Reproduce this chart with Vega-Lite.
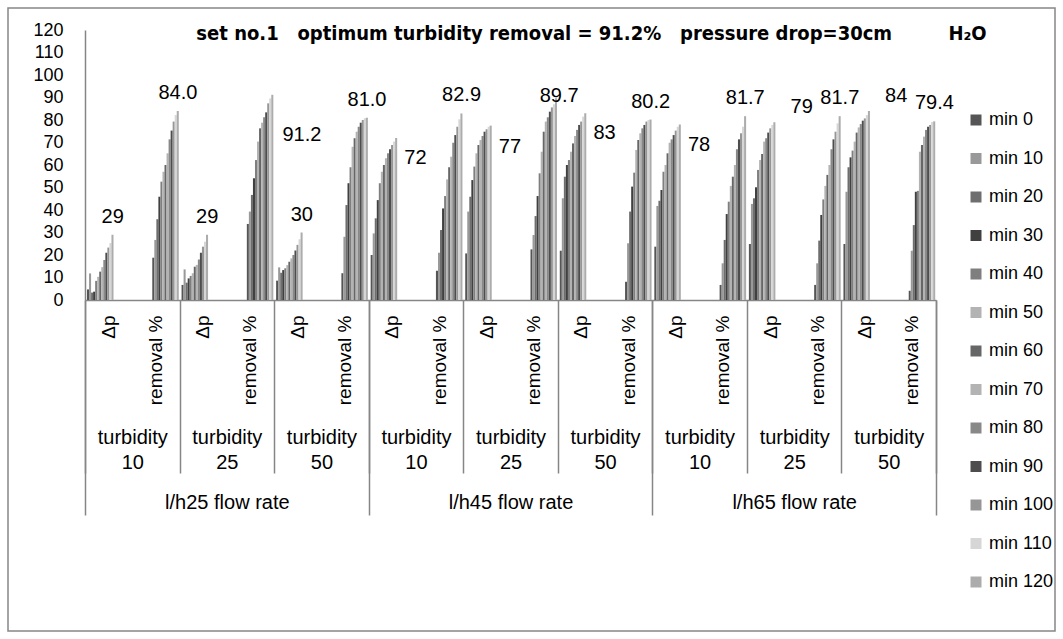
{
  "$schema": "https://vega.github.io/schema/vega-lite/v6.json",
  "width": 1047,
  "height": 623,
  "autosize": {"type": "none"},
  "padding": 8,
  "background": "white",
  "config": {
    "view": {"stroke": "#868686", "strokeWidth": 1.5},
    "font": "Liberation Sans",
    "axis": {"labelFont": "Liberation Sans", "labelColor": "#000000", "grid": false, "domainColor": "#868686", "tickColor": "#868686"},
    "legend": {"labelFont": "Liberation Sans", "labelColor": "#000000"}
  },
  "title": {
    "text": "set no.1\u00a0\u00a0\u00a0optimum turbidity removal = 91.2%\u00a0\u00a0\u00a0pressure drop=30cm\u00a0\u00a0\u00a0\u00a0\u00a0\u00a0\u00a0\u00a0\u00a0H₂O",
    "anchor": "middle",
    "frame": "group",
    "font": "Liberation Sans Narrow, DejaVu Sans Condensed, sans-serif",
    "fontWeight": "bold",
    "fontSize": 20,
    "color": "#000000",
    "offset": 0,
    "dx": 60,
    "dy": 36
  },
  "datasets": {
    "bars": [
      {"c": "25|10|Δp", "min 0": 4.7, "min 10": 11.8, "min 20": 3.3, "min 30": 3.7, "min 40": 8.5, "min 50": 10.3, "min 60": 12.6, "min 70": 14.6, "min 80": 17.8, "min 90": 21, "min 100": 23.3, "min 110": 25.3, "min 120": 29},
      {"c": "25|10|removal %", "min 0": 18.8, "min 10": 26.7, "min 20": 35.9, "min 30": 45.9, "min 40": 52.6, "min 50": 57, "min 60": 60, "min 70": 65.2, "min 80": 71.4, "min 90": 75.3, "min 100": 79.3, "min 110": 82.2, "min 120": 84},
      {"c": "25|25|Δp", "min 0": 6.7, "min 10": 13.6, "min 20": 7.7, "min 30": 9.6, "min 40": 10.7, "min 50": 11.9, "min 60": 14.8, "min 70": 15.6, "min 80": 18, "min 90": 21, "min 100": 23.7, "min 110": 25.9, "min 120": 29},
      {"c": "25|25|removal %", "min 0": 33.8, "min 10": 39.3, "min 20": 46.7, "min 30": 54.1, "min 40": 62.2, "min 50": 70.4, "min 60": 76.3, "min 70": 78.8, "min 80": 81.2, "min 90": 83.4, "min 100": 87.4, "min 110": 89.6, "min 120": 91.2},
      {"c": "25|50|Δp", "min 0": 8.6, "min 10": 14.5, "min 20": 12.1, "min 30": 13.3, "min 40": 14.1, "min 50": 15.5, "min 60": 17, "min 70": 18.5, "min 80": 20, "min 90": 22, "min 100": 24.5, "min 110": 27, "min 120": 30},
      {"c": "25|50|removal %", "min 0": 11.9, "min 10": 28.1, "min 20": 42.2, "min 30": 51.9, "min 40": 59, "min 50": 68.1, "min 60": 71.9, "min 70": 74.8, "min 80": 77, "min 90": 78.8, "min 100": 80, "min 110": 80.8, "min 120": 81},
      {"c": "45|10|Δp", "min 0": 20, "min 10": 29.6, "min 20": 36.3, "min 30": 44.4, "min 40": 51.9, "min 50": 57, "min 60": 60, "min 70": 63, "min 80": 65.2, "min 90": 67, "min 100": 68.9, "min 110": 70.4, "min 120": 72},
      {"c": "45|10|removal %", "min 0": 13, "min 10": 21, "min 20": 31.1, "min 30": 40.7, "min 40": 46.2, "min 50": 53.6, "min 60": 59, "min 70": 63.7, "min 80": 69.9, "min 90": 73.3, "min 100": 77, "min 110": 80.3, "min 120": 82.9},
      {"c": "45|25|Δp", "min 0": 20.7, "min 10": 39.3, "min 20": 45.9, "min 30": 53.3, "min 40": 59.3, "min 50": 65.2, "min 60": 68.9, "min 70": 71.1, "min 80": 72.9, "min 90": 74.8, "min 100": 75.9, "min 110": 77, "min 120": 77.5},
      {"c": "45|25|removal %", "min 0": 22.5, "min 10": 28.9, "min 20": 37.3, "min 30": 46.2, "min 40": 56.3, "min 50": 65.9, "min 60": 74.8, "min 70": 79.3, "min 80": 81.2, "min 90": 83.7, "min 100": 85.6, "min 110": 87, "min 120": 89.7},
      {"c": "45|50|Δp", "min 0": 21.9, "min 10": 45.2, "min 20": 54.8, "min 30": 60, "min 40": 62.2, "min 50": 65.9, "min 60": 69.6, "min 70": 72.9, "min 80": 75.6, "min 90": 77.8, "min 100": 79.3, "min 110": 81.5, "min 120": 83},
      {"c": "45|50|removal %", "min 0": 8.1, "min 10": 25.2, "min 20": 39.3, "min 30": 50.4, "min 40": 56.6, "min 50": 66.7, "min 60": 71.1, "min 70": 74.1, "min 80": 76.3, "min 90": 77.8, "min 100": 79.3, "min 110": 80, "min 120": 80.2},
      {"c": "65|10|Δp", "min 0": 23.7, "min 10": 41.8, "min 20": 44.1, "min 30": 48.9, "min 40": 57, "min 50": 60, "min 60": 65.2, "min 70": 69.9, "min 80": 71.4, "min 90": 73.3, "min 100": 75.3, "min 110": 77, "min 120": 78},
      {"c": "65|10|removal %", "min 0": 6.7, "min 10": 16.3, "min 20": 26.7, "min 30": 38.2, "min 40": 43.7, "min 50": 50.7, "min 60": 54.8, "min 70": 60, "min 80": 67, "min 90": 71.4, "min 100": 74.1, "min 110": 77, "min 120": 81.7},
      {"c": "65|25|Δp", "min 0": 24.9, "min 10": 42.7, "min 20": 45.2, "min 30": 50.1, "min 40": 57.8, "min 50": 62.2, "min 60": 64.9, "min 70": 70.4, "min 80": 71.9, "min 90": 74.4, "min 100": 76.3, "min 110": 77.8, "min 120": 79},
      {"c": "65|25|removal %", "min 0": 6.7, "min 10": 16.3, "min 20": 26.4, "min 30": 37.8, "min 40": 44.7, "min 50": 50.7, "min 60": 55.6, "min 70": 60, "min 80": 67, "min 90": 71.4, "min 100": 74.8, "min 110": 78.5, "min 120": 81.7},
      {"c": "65|50|Δp", "min 0": 24.9, "min 10": 48.1, "min 20": 59, "min 30": 63.4, "min 40": 66.4, "min 50": 70.4, "min 60": 74.4, "min 70": 76.7, "min 80": 78.2, "min 90": 79.7, "min 100": 80.7, "min 110": 82.2, "min 120": 84},
      {"c": "65|50|removal %", "min 0": 4.1, "min 10": 21.9, "min 20": 33.3, "min 30": 48.1, "min 40": 48.5, "min 50": 65.9, "min 60": 68.9, "min 70": 72.6, "min 80": 75.6, "min 90": 77, "min 100": 77.8, "min 110": 79.1, "min 120": 79.4}
    ],
    "labDpTop": [
      {"c": "25|10|Δp", "v": 29, "t": "29"},
      {"c": "25|25|Δp", "v": 29, "t": "29"},
      {"c": "25|50|Δp", "v": 30, "t": "30"}
    ],
    "labRemTop": [
      {"c": "25|10|removal %", "v": 84.0, "t": "84.0"},
      {"c": "25|50|removal %", "v": 81.0, "t": "81.0"},
      {"c": "45|10|removal %", "v": 82.9, "t": "82.9"},
      {"c": "45|50|removal %", "v": 80.2, "t": "80.2"},
      {"c": "65|10|removal %", "v": 81.7, "t": "81.7"},
      {"c": "65|25|removal %", "v": 81.7, "t": "81.7"},
      {"c": "65|50|removal %", "v": 79.4, "t": "79.4"}
    ],
    "labRemTip": [
      {"c": "45|25|removal %", "v": 89.7, "t": "89.7"}
    ],
    "labDpSide": [
      {"c": "45|10|Δp", "v": 72, "t": "72"},
      {"c": "45|25|Δp", "v": 77, "t": "77"},
      {"c": "45|50|Δp", "v": 83, "t": "83"},
      {"c": "65|10|Δp", "v": 78, "t": "78"}
    ],
    "labDpUp": [
      {"c": "65|25|Δp", "v": 79, "t": "79"},
      {"c": "65|50|Δp", "v": 84, "t": "84"}
    ],
    "labRemSide": [
      {"c": "25|25|removal %", "v": 91.2, "t": "91.2"}
    ],
    "turb": [
      {"g": "25|10"}, {"g": "25|25"}, {"g": "25|50"},
      {"g": "45|10"}, {"g": "45|25"}, {"g": "45|50"},
      {"g": "65|10"}, {"g": "65|25"}, {"g": "65|50"}
    ],
    "flow": [{"f": "25"}, {"f": "45"}, {"f": "65"}]
  },
  "layer": [
    {
      "data": {"name": "bars"},
      "transform": [
        {"filter": "indexof(datum.c, 'Δp') >= 0"},
        {"fold": ["min 0", "min 10", "min 20", "min 30", "min 40", "min 50", "min 60", "min 70", "min 80", "min 90", "min 100", "min 110", "min 120"], "as": ["s", "v"]}
      ],
      "mark": {"type": "bar"},
      "encoding": {
        "x": {
          "field": "c", "type": "nominal", "title": null, "sort": null,
          "scale": {"domain": ["25|10|Δp", "25|10|removal %", "25|25|Δp", "25|25|removal %", "25|50|Δp", "25|50|removal %", "45|10|Δp", "45|10|removal %", "45|25|Δp", "45|25|removal %", "45|50|Δp", "45|50|removal %", "65|10|Δp", "65|10|removal %", "65|25|Δp", "65|25|removal %", "65|50|Δp", "65|50|removal %"], "range": [77, 928], "paddingInner": 0, "paddingOuter": 0},
          "axis": {"orient": "bottom", "offset": -331, "labelExpr": "isValid(datum.value) ? split(datum.value, '|')[2] : ''", "labelAngle": -90, "labelAlign": "right", "labelBaseline": "middle", "labelFontSize": 19, "labelPadding": 15, "ticks": false, "tickSize": 0, "domainWidth": 1.5, "labelOverlap": false, "labelBound": false, "labelFlush": false}
        },
        "xOffset": {
          "field": "s", "type": "nominal",
          "scale": {"domain": ["min 0", "min 10", "min 20", "min 30", "min 40", "min 50", "min 60", "min 70", "min 80", "min 90", "min 100", "min 110", "min 120"], "range": [2, 28.5], "paddingInner": 0, "paddingOuter": 0}
        },
        "y": {
          "field": "v", "type": "quantitative", "title": null,
          "scale": {"domain": [0, 120], "range": [292, 22], "nice": false},
          "axis": {"offset": -77, "values": [0, 10, 20, 30, 40, 50, 60, 70, 80, 90, 100, 110, 120], "ticks": false, "tickSize": 0, "labelPadding": 22, "labelFontSize": 18, "domainWidth": 1.5, "labelOverlap": false, "labelBound": false, "labelFlush": false}
        },
        "color": {
          "field": "s", "type": "nominal", "title": null,
          "scale": {"domain": ["min 0", "min 10", "min 20", "min 30", "min 40", "min 50", "min 60", "min 70", "min 80", "min 90", "min 100", "min 110", "min 120"], "range": ["#555555", "#999999", "#6e6e6e", "#404040", "#7f7f7f", "#b3b3b3", "#666666", "#b3b3b3", "#888888", "#4d4d4d", "#969696", "#d6d6d6", "#acacac"]},
          "legend": {"orient": "none", "legendX": 959, "legendY": 103, "symbolType": "square", "symbolSize": 121, "symbolStrokeWidth": 0, "labelFontSize": 18, "rowPadding": 20.5, "labelOffset": 4, "padding": 0}
        }
      }
    },
    {
      "data": {"name": "bars"},
      "transform": [
        {"filter": "indexof(datum.c, 'Δp') < 0"},
        {"fold": ["min 0", "min 10", "min 20", "min 30", "min 40", "min 50", "min 60", "min 70", "min 80", "min 90", "min 100", "min 110", "min 120"], "as": ["s", "v"]}
      ],
      "mark": {"type": "bar"},
      "encoding": {
        "x": {
          "field": "c", "type": "nominal", "title": null, "sort": null,
          "scale": {"domain": ["25|10|Δp", "25|10|removal %", "25|25|Δp", "25|25|removal %", "25|50|Δp", "25|50|removal %", "45|10|Δp", "45|10|removal %", "45|25|Δp", "45|25|removal %", "45|50|Δp", "45|50|removal %", "65|10|Δp", "65|10|removal %", "65|25|Δp", "65|25|removal %", "65|50|Δp", "65|50|removal %"], "range": [77, 928], "paddingInner": 0, "paddingOuter": 0},
          "axis": null
        },
        "xOffset": {
          "field": "s", "type": "nominal",
          "scale": {"domain": ["min 0", "min 10", "min 20", "min 30", "min 40", "min 50", "min 60", "min 70", "min 80", "min 90", "min 100", "min 110", "min 120"], "range": [20, 46.5], "paddingInner": 0, "paddingOuter": 0}
        },
        "y": {"field": "v", "type": "quantitative", "title": null, "scale": {"domain": [0, 120], "range": [292, 22], "nice": false}},
        "color": {"field": "s", "type": "nominal", "title": null}
      }
    },
    {
      "data": {"name": "labDpTop"},
      "mark": {"type": "text", "fontSize": 20, "color": "#000000", "baseline": "middle", "align": "center", "dx": 4, "dy": -18},
      "encoding": {
        "x": {"field": "c", "type": "nominal", "title": null, "scale": {"domain": ["25|10|Δp", "25|10|removal %", "25|25|Δp", "25|25|removal %", "25|50|Δp", "25|50|removal %", "45|10|Δp", "45|10|removal %", "45|25|Δp", "45|25|removal %", "45|50|Δp", "45|50|removal %", "65|10|Δp", "65|10|removal %", "65|25|Δp", "65|25|removal %", "65|50|Δp", "65|50|removal %"], "range": [77, 928], "paddingInner": 0, "paddingOuter": 0}, "axis": null},
        "y": {"field": "v", "type": "quantitative", "title": null, "scale": {"domain": [0, 120], "range": [292, 22], "nice": false}},
        "text": {"field": "t"}
      }
    },
    {
      "data": {"name": "labRemTop"},
      "mark": {"type": "text", "fontSize": 20, "color": "#000000", "baseline": "middle", "align": "center", "dx": 22, "dy": -18},
      "encoding": {
        "x": {"field": "c", "type": "nominal", "title": null, "scale": {"domain": ["25|10|Δp", "25|10|removal %", "25|25|Δp", "25|25|removal %", "25|50|Δp", "25|50|removal %", "45|10|Δp", "45|10|removal %", "45|25|Δp", "45|25|removal %", "45|50|Δp", "45|50|removal %", "65|10|Δp", "65|10|removal %", "65|25|Δp", "65|25|removal %", "65|50|Δp", "65|50|removal %"], "range": [77, 928], "paddingInner": 0, "paddingOuter": 0}, "axis": null},
        "y": {"field": "v", "type": "quantitative", "title": null, "scale": {"domain": [0, 120], "range": [292, 22], "nice": false}},
        "text": {"field": "t"}
      }
    },
    {
      "data": {"name": "labRemTip"},
      "mark": {"type": "text", "fontSize": 20, "color": "#000000", "baseline": "middle", "align": "center", "dx": 25, "dy": -2},
      "encoding": {
        "x": {"field": "c", "type": "nominal", "title": null, "scale": {"domain": ["25|10|Δp", "25|10|removal %", "25|25|Δp", "25|25|removal %", "25|50|Δp", "25|50|removal %", "45|10|Δp", "45|10|removal %", "45|25|Δp", "45|25|removal %", "45|50|Δp", "45|50|removal %", "65|10|Δp", "65|10|removal %", "65|25|Δp", "65|25|removal %", "65|50|Δp", "65|50|removal %"], "range": [77, 928], "paddingInner": 0, "paddingOuter": 0}, "axis": null},
        "y": {"field": "v", "type": "quantitative", "title": null, "scale": {"domain": [0, 120], "range": [292, 22], "nice": false}},
        "text": {"field": "t"}
      }
    },
    {
      "data": {"name": "labDpSide"},
      "mark": {"type": "text", "fontSize": 20, "color": "#000000", "baseline": "middle", "align": "left", "dx": 12, "dy": 20},
      "encoding": {
        "x": {"field": "c", "type": "nominal", "title": null, "scale": {"domain": ["25|10|Δp", "25|10|removal %", "25|25|Δp", "25|25|removal %", "25|50|Δp", "25|50|removal %", "45|10|Δp", "45|10|removal %", "45|25|Δp", "45|25|removal %", "45|50|Δp", "45|50|removal %", "65|10|Δp", "65|10|removal %", "65|25|Δp", "65|25|removal %", "65|50|Δp", "65|50|removal %"], "range": [77, 928], "paddingInner": 0, "paddingOuter": 0}, "axis": null},
        "y": {"field": "v", "type": "quantitative", "title": null, "scale": {"domain": [0, 120], "range": [292, 22], "nice": false}},
        "text": {"field": "t"}
      }
    },
    {
      "data": {"name": "labDpUp"},
      "mark": {"type": "text", "fontSize": 20, "color": "#000000", "baseline": "middle", "align": "left", "dx": 20, "dy": -15},
      "encoding": {
        "x": {"field": "c", "type": "nominal", "title": null, "scale": {"domain": ["25|10|Δp", "25|10|removal %", "25|25|Δp", "25|25|removal %", "25|50|Δp", "25|50|removal %", "45|10|Δp", "45|10|removal %", "45|25|Δp", "45|25|removal %", "45|50|Δp", "45|50|removal %", "65|10|Δp", "65|10|removal %", "65|25|Δp", "65|25|removal %", "65|50|Δp", "65|50|removal %"], "range": [77, 928], "paddingInner": 0, "paddingOuter": 0}, "axis": null},
        "y": {"field": "v", "type": "quantitative", "title": null, "scale": {"domain": [0, 120], "range": [292, 22], "nice": false}},
        "text": {"field": "t"}
      }
    },
    {
      "data": {"name": "labRemSide"},
      "mark": {"type": "text", "fontSize": 20, "color": "#000000", "baseline": "middle", "align": "left", "dx": 32, "dy": 40},
      "encoding": {
        "x": {"field": "c", "type": "nominal", "title": null, "scale": {"domain": ["25|10|Δp", "25|10|removal %", "25|25|Δp", "25|25|removal %", "25|50|Δp", "25|50|removal %", "45|10|Δp", "45|10|removal %", "45|25|Δp", "45|25|removal %", "45|50|Δp", "45|50|removal %", "65|10|Δp", "65|10|removal %", "65|25|Δp", "65|25|removal %", "65|50|Δp", "65|50|removal %"], "range": [77, 928], "paddingInner": 0, "paddingOuter": 0}, "axis": null},
        "y": {"field": "v", "type": "quantitative", "title": null, "scale": {"domain": [0, 120], "range": [292, 22], "nice": false}},
        "text": {"field": "t"}
      }
    },
    {
      "data": {"name": "turb"},
      "mark": {"type": "rule", "opacity": 0},
      "encoding": {
        "x": {
          "field": "g", "type": "nominal", "title": null, "sort": null,
          "scale": {"domain": ["25|10", "25|25", "25|50", "45|10", "45|25", "45|50", "65|10", "65|25", "65|50"], "range": [77, 928], "paddingInner": 0, "paddingOuter": 0},
          "axis": {"orient": "bottom", "offset": -331, "domain": false, "ticks": true, "tickBand": "extent", "tickSize": 173, "tickWidth": 1.5, "labelAngle": 0, "labelAlign": "center", "labelBaseline": "top", "labelExpr": "isValid(datum.value) ? ['turbidity', split(datum.value, '|')[1]] : ''", "labelFontSize": 20, "labelLineHeight": 25, "labelPadding": -46, "labelOverlap": false, "labelBound": false, "labelFlush": false}
        }
      }
    },
    {
      "data": {"name": "flow"},
      "mark": {"type": "rule", "opacity": 0},
      "encoding": {
        "x": {
          "field": "f", "type": "nominal", "title": null, "sort": null,
          "scale": {"domain": ["25", "45", "65"], "range": [77, 928], "paddingInner": 0, "paddingOuter": 0},
          "axis": {"orient": "bottom", "offset": -331, "domain": false, "ticks": true, "tickBand": "extent", "tickSize": 215, "tickWidth": 1.5, "labelAngle": 0, "labelAlign": "center", "labelBaseline": "top", "labelExpr": "isValid(datum.value) ? 'l/h' + datum.value + ' flow rate' : ''", "labelFontSize": 20, "labelPadding": -23, "labelOverlap": false, "labelBound": false, "labelFlush": false}
        }
      }
    }
  ],
  "resolve": {"scale": {"x": "independent", "xOffset": "independent"}, "axis": {"x": "independent"}}
}
